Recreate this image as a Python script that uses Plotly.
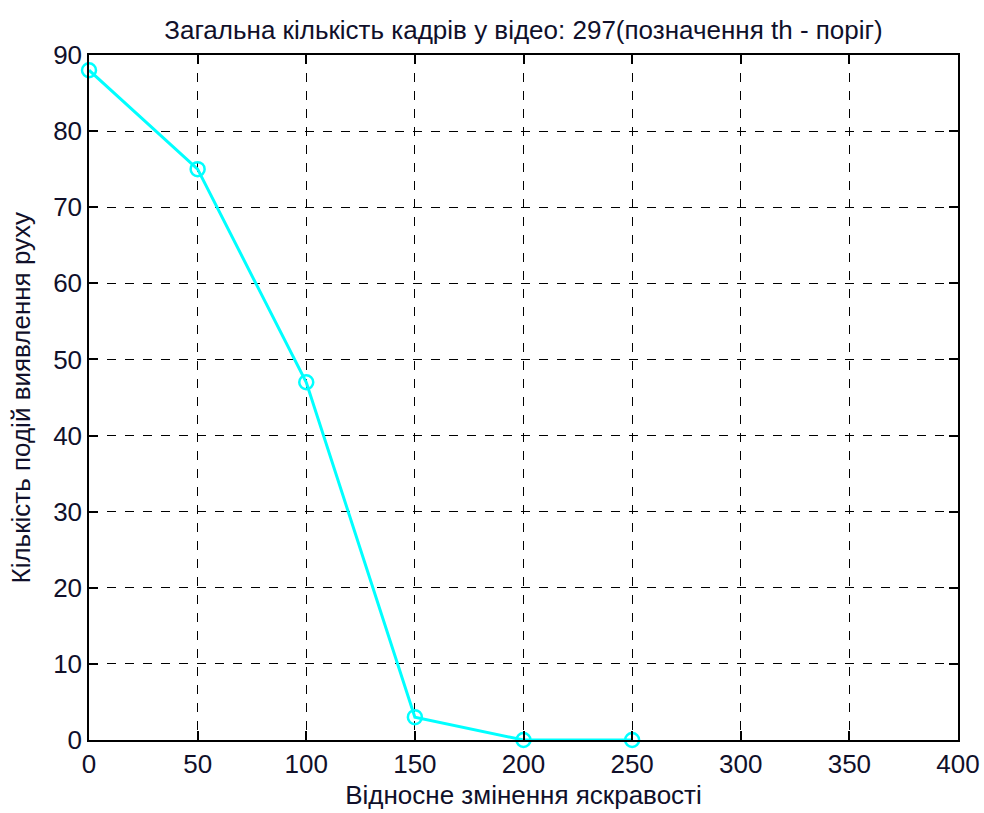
import plotly.graph_objects as go

# Relative brightness change threshold and number of motion-detection events
threshold = [0, 50, 100, 150, 200, 250]
events = [88, 75, 47, 3, 0, 0]

x_ticks = [0, 50, 100, 150, 200, 250, 300, 350, 400]
y_ticks = [0, 10, 20, 30, 40, 50, 60, 70, 80, 90]

title_text = "Загальна кількість кадрів у відео: 297(позначення th - поріг)"
x_label = "Відносне змінення яскравості"
y_label = "Кількість подій виявлення руху"

font_family = "Liberation Sans, Arial, sans-serif"
text_color = "#10102a"
font_size = 26

# plot area in pixels
plot_left, plot_right = 89, 958
plot_width = plot_right - plot_left

fig = go.Figure()
fig.add_trace(go.Scatter(
    x=threshold,
    y=events,
    mode="lines+markers",
    line=dict(color="#00ffff", width=3),
    marker=dict(symbol="circle-open", size=14, color="#00ffff",
                line=dict(width=2.5, color="#00ffff")),
    showlegend=False,
    cliponaxis=False,
))

axis_common = dict(
    showline=True,
    linecolor="black",
    linewidth=1.5,
    mirror="allticks",
    ticks="inside",
    ticklen=9,
    tickwidth=1.5,
    tickcolor="black",
    showgrid=True,
    gridcolor="black",
    gridwidth=1,
    griddash="dash",
    zeroline=False,
    automargin=False,
    tickfont=dict(family=font_family, size=font_size, color=text_color),
)

fig.update_layout(
    width=984,
    height=813,
    paper_bgcolor="white",
    plot_bgcolor="white",
    margin=dict(l=plot_left, r=984 - plot_right, t=55, b=73),
    title=dict(
        text=title_text,
        font=dict(family=font_family, size=font_size, color=text_color),
        x=0.5 * (plot_left + plot_right) / 984,
        xanchor="center",
        y=1 - 30 / 813,
        yanchor="middle",
        automargin=False,
    ),
    xaxis=dict(
        range=[0, 400],
        tickvals=x_ticks,
        ticktext=[str(v) for v in x_ticks],
        title=dict(text=x_label, font=dict(family=font_family, size=font_size, color=text_color),
                   standoff=8),
        **axis_common,
    ),
    yaxis=dict(
        range=[0, 90],
        tickvals=y_ticks,
        ticktext=[str(v) for v in y_ticks],
        **axis_common,
    ),
    annotations=[dict(
        text=y_label,
        xref="paper", yref="paper",
        x=(20 - plot_left) / plot_width, y=0.5,
        xanchor="center", yanchor="middle",
        textangle=-90,
        showarrow=False,
        font=dict(family=font_family, size=font_size, color=text_color),
    )],
)

fig.write_html("out.html")
